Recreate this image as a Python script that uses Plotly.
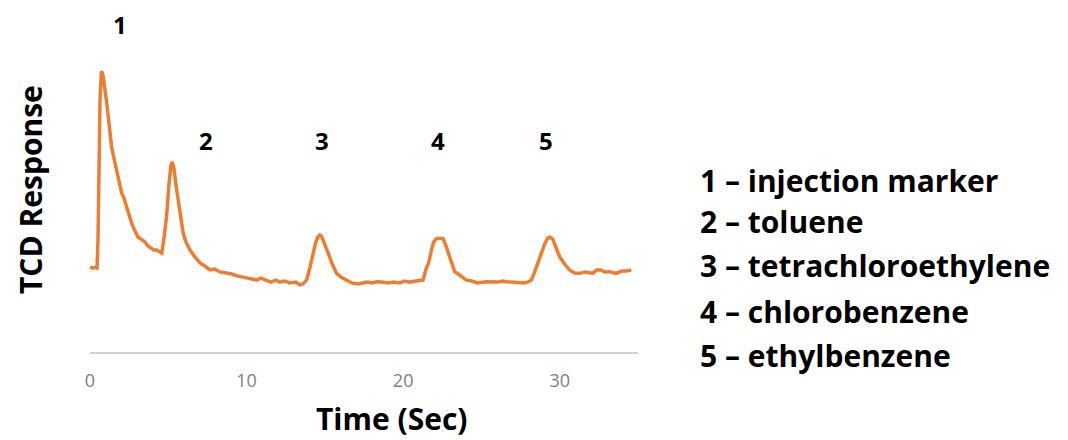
import plotly.graph_objects as go

# Chromatogram trace: time (s) and detector response (arbitrary units)
time_s = [
    0.00, 0.13, 0.32, 0.45, 0.51, 0.57, 0.64, 0.73, 0.83, 1.07,
    1.21, 1.38, 1.53, 1.70, 1.85, 2.02, 2.17, 2.34, 2.49, 2.66,
    2.87, 3.06, 3.25, 3.51, 3.70, 3.94, 4.08, 4.26, 4.40, 4.59,
    4.75, 4.89, 5.04, 5.17, 5.25, 5.36, 5.49, 5.64, 5.81, 5.95,
    6.13, 6.38, 6.70, 7.02, 7.34, 7.66, 7.98, 8.30, 8.72, 9.06,
    9.38, 9.76, 10.08, 10.34, 10.64, 10.91, 11.28, 11.55, 11.87, 12.13,
    12.44, 12.76, 13.15, 13.40, 13.59, 13.83, 14.04, 14.25, 14.42, 14.55,
    14.68, 14.81, 15.00, 15.21, 15.44, 15.74, 16.02, 16.38, 16.72, 17.10,
    17.42, 17.74, 18.00, 18.30, 18.63, 19.02, 19.40, 19.78, 20.10, 20.42,
    20.80, 21.06, 21.27, 21.44, 21.64, 21.81, 21.95, 22.13, 22.55, 22.72,
    22.97, 23.29, 23.61, 24.04, 24.38, 24.76, 25.32, 25.65, 26.04, 26.36,
    26.59, 26.93, 27.31, 27.70, 27.95, 28.19, 28.40, 28.59, 28.83, 29.04,
    29.23, 29.36, 29.55, 29.74, 29.99, 30.31, 30.63, 30.95, 31.27, 31.65,
    32.12, 32.34, 32.61, 32.87, 33.18, 33.61, 33.95, 34.27, 34.57,
]
response = [
    30.1, 29.8, 30.0, 29.8, 39.7, 68.1, 89.4, 99.6, 98.2, 88.3,
    80.5, 72.7, 68.8, 64.5, 60.3, 56.4, 54.6, 51.4, 48.6, 45.7,
    42.9, 40.8, 40.1, 39.0, 37.6, 36.9, 36.2, 36.2, 35.8, 35.1,
    41.5, 48.0, 59.2, 66.3, 67.4, 65.2, 59.2, 53.9, 46.8, 42.2,
    39.0, 36.2, 33.7, 31.6, 30.5, 29.1, 29.4, 28.4, 28.0, 27.7,
    27.0, 26.7, 26.2, 25.9, 25.5, 26.2, 25.5, 24.8, 25.5, 24.8,
    25.2, 24.5, 24.8, 23.8, 24.1, 25.5, 29.8, 35.1, 39.0, 40.8,
    41.5, 40.8, 38.3, 35.1, 31.6, 28.0, 26.6, 25.5, 24.5, 24.1,
    24.5, 24.8, 24.5, 24.9, 24.8, 24.5, 24.8, 24.5, 25.2, 24.8,
    25.2, 25.2, 25.5, 29.1, 31.9, 36.2, 39.0, 40.3, 40.3, 37.9,
    33.8, 28.5, 27.3, 25.5, 25.2, 24.5, 24.9, 24.8, 24.8, 25.2,
    24.9, 24.8, 24.5, 24.5, 24.8, 25.5, 28.4, 31.6, 35.1, 38.3,
    40.4, 40.7, 40.1, 37.6, 33.8, 31.2, 29.1, 28.0, 27.9, 28.4,
    27.9, 29.1, 29.1, 28.4, 28.5, 27.9, 28.7, 28.7, 29.1,
]

# Peak numbers drawn above each peak (time position, height as fraction of plot)
peak_numbers = ["1", "2", "3", "4", "5"]
peak_label_time = [1.91, 7.40, 14.81, 22.21, 29.10]
peak_label_height = [1.105, 0.713, 0.713, 0.713, 0.713]

# Compound key shown to the right of the plot
compounds = [
    "1 \u2013 injection marker",
    "2 \u2013 toluene",
    "3 \u2013 tetrachloroethylene",
    "4 \u2013 chlorobenzene",
    "5 \u2013 ethylbenzene",
]

x_ticks = [0, 10, 20, 30]

FONT = "Open Sans"

fig = go.Figure()
fig.add_trace(go.Scatter(
    x=time_s, y=response, mode="lines",
    line=dict(color="#ED7D31", width=3.5),
    showlegend=False, hoverinfo="skip",
))

annotations = []
for lab, t, h in zip(peak_numbers, peak_label_time, peak_label_height):
    annotations.append(dict(
        x=t, y=h, xref="x", yref="paper", text=f"<b>{lab}</b>",
        showarrow=False, font=dict(family=FONT, size=24, color="#000000"),
        xanchor="center", yanchor="middle",
    ))

key_rows = [180, 221, 265, 311, 355]  # pixel rows of the key lines
plot_top, plot_bottom = 56, 352
for txt, row in zip(compounds, key_rows):
    annotations.append(dict(
        x=(698 - 90) / 548, y=(plot_bottom - row) / (plot_bottom - plot_top),
        xref="paper", yref="paper", text=f"<b>{txt}</b>",
        showarrow=False, font=dict(family=FONT, size=30, color="#000000"),
        xanchor="left", yanchor="middle",
    ))

# Axis titles
annotations.append(dict(
    x=(392 - 90) / 548, y=(plot_bottom - 418) / (plot_bottom - plot_top),
    xref="paper", yref="paper", text="<b>Time (Sec)</b>", showarrow=False,
    font=dict(family=FONT, size=30, color="#000000"),
    xanchor="center", yanchor="middle",
))
annotations.append(dict(
    x=(30 - 90) / 548, y=(plot_bottom - 190) / (plot_bottom - plot_top),
    xref="paper", yref="paper", text="<b>TCD Response</b>", showarrow=False,
    textangle=-90, font=dict(family=FONT, size=30, color="#000000"),
    xanchor="center", yanchor="middle",
))

fig.update_layout(
    width=1068, height=440,
    margin=dict(l=90, r=430, t=56, b=88),
    paper_bgcolor="white", plot_bgcolor="white",
    annotations=annotations,
    xaxis=dict(
        range=[0, 35], tickvals=x_ticks, ticks="", showgrid=False,
        zeroline=False, showline=True, linecolor="#D0D0D0", linewidth=1.5,
        tickfont=dict(family=FONT, size=18, color="#808080"),
        ticklabelstandoff=12,
    ),
    yaxis=dict(
        range=[0, 105], showticklabels=False, ticks="", showgrid=False,
        zeroline=False, showline=False,
    ),
)

fig.write_html("out.html")
